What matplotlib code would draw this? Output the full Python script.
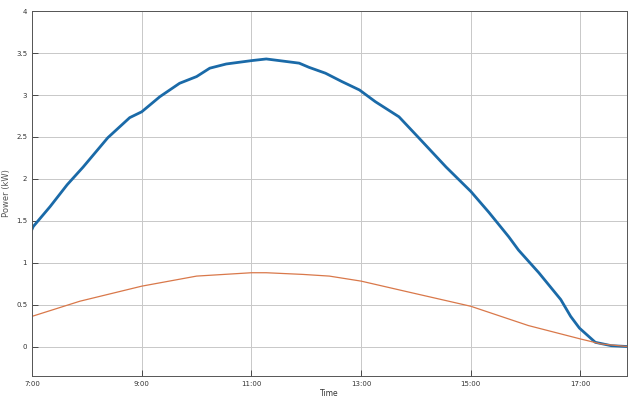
import matplotlib.pyplot as plt

# hours of the day
pv_hours = [7.0, 7.02, 7.33, 7.64, 7.93, 8.38, 8.78, 9.0, 9.33, 9.69, 10.0,
            10.24, 10.54, 11.0, 11.27, 11.51, 11.87, 12.05, 12.35, 12.65,
            12.97, 13.26, 13.69, 14.05, 14.55, 15.0, 15.33, 15.69, 15.87,
            16.24, 16.64, 16.82, 16.98, 17.27, 17.56, 17.85]
pv_power = [1.40, 1.43, 1.67, 1.93, 2.14, 2.49, 2.73, 2.80, 2.98, 3.14, 3.22,
            3.32, 3.37, 3.41, 3.43, 3.41, 3.38, 3.33, 3.26, 3.16,
            3.06, 2.92, 2.74, 2.49, 2.14, 1.85, 1.60, 1.31, 1.15,
            0.88, 0.56, 0.36, 0.22, 0.05, 0.01, 0.0]

load_hours = [7.0, 7.87, 9.0, 10.0, 11.0, 11.27, 11.94, 12.42, 13.0, 13.93,
              15.0, 16.05, 17.0, 17.38, 17.85]
load_power = [0.36, 0.54, 0.72, 0.84, 0.88, 0.88, 0.86, 0.84, 0.78, 0.64,
              0.48, 0.25, 0.09, 0.03, 0.0]

x_ticks = [7, 9, 11, 13, 15, 17]
x_labels = ["7:00", "9:00", "11:00", "13:00", "15:00", "17:00"]
y_ticks = [0, 0.5, 1, 1.5, 2, 2.5, 3, 3.5, 4]
y_labels = ["0", "0.5", "1", "1.5", "2", "2.5", "3", "3.5", "4"]

fig = plt.figure(figsize=(6.29, 3.99), dpi=100)
ax = fig.add_axes([0.051, 0.058, 0.946, 0.914])

ax.plot(pv_hours, pv_power, color="#1a6aa8", linewidth=2.0)
ax.plot(load_hours, load_power, color="#d9784a", linewidth=0.9)

ax.set_xlim(7, 17.85)
ax.set_ylim(-0.35, 4)
ax.set_xticks(x_ticks)
ax.set_xticklabels(x_labels)
ax.set_yticks(y_ticks)
ax.set_yticklabels(y_labels)
ax.tick_params(axis="both", labelsize=5, colors="#333333", length=4,
               width=0.6, direction="in")
ax.grid(True, color="#c8c8c8", linewidth=0.7)
for s in ax.spines.values():
    s.set_color("#555555")
    s.set_linewidth(0.7)

ax.set_xlabel("Time", fontsize=5.5, labelpad=2, color="#333333")
ax.set_ylabel("Power (kW)", fontsize=6, color="#555555", labelpad=4)

fig.savefig("out.png", dpi=100)
